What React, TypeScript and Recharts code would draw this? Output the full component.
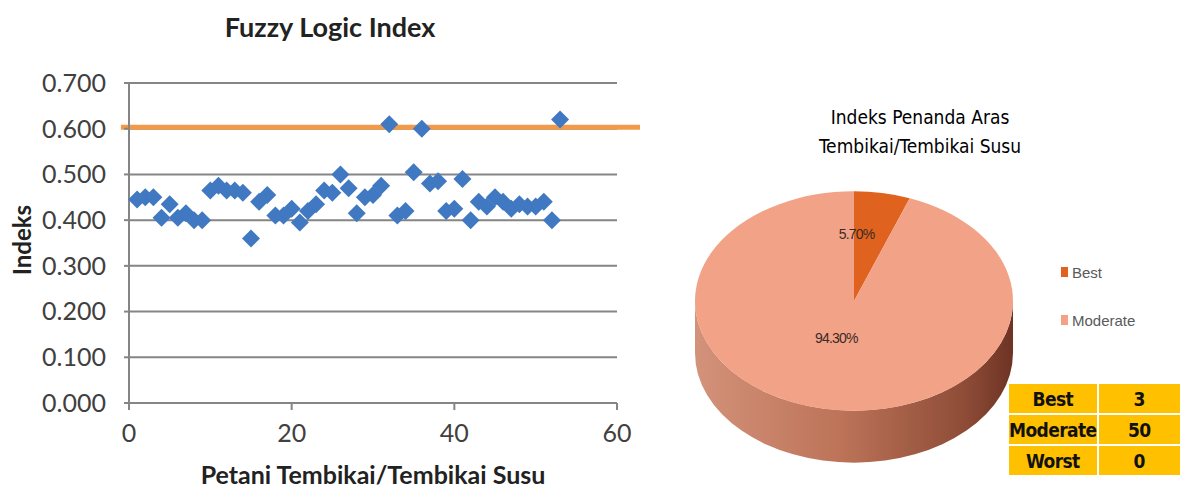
import React from 'react'
import {
  ScatterChart, Scatter, XAxis, YAxis, CartesianGrid, ReferenceLine, Label,
  PieChart, Pie, Cell, Legend,
} from 'recharts'

document.body.style.margin = '0'

// farmer number on the x axis, fuzzy logic index on the y axis
const farmerIds = [
  1, 2, 3, 4, 5, 6, 7, 8, 9, 10, 11, 12, 13, 14, 15, 16, 17, 18,
  19, 20, 21, 22, 23, 24, 25, 26, 27, 28, 29, 30, 31, 32, 33, 34, 35, 36,
  37, 38, 39, 40, 41, 42, 43, 44, 45, 46, 47, 48, 49, 50, 51, 52, 53,
]
const fuzzyIndex = [
  0.445, 0.45, 0.45, 0.405, 0.435, 0.405, 0.415, 0.4, 0.4, 0.465, 0.475, 0.465, 0.465, 0.46, 0.36, 0.44, 0.455, 0.41,
  0.41, 0.425, 0.395, 0.42, 0.435, 0.465, 0.46, 0.5, 0.47, 0.415, 0.45, 0.455, 0.475, 0.61, 0.41, 0.42, 0.505, 0.6,
  0.48, 0.485, 0.42, 0.425, 0.49, 0.4, 0.44, 0.43, 0.45, 0.44, 0.425, 0.435, 0.43, 0.43, 0.44, 0.4, 0.62,
]
const benchmark = 0.603
const yTicks = [0, 0.1, 0.2, 0.3, 0.4, 0.5, 0.6, 0.7]
const xTicks = [0, 20, 40, 60]

const pieCategories = ['Best', 'Moderate']
const piePercents = [5.7, 94.3]
const pieColors = ['#E0621F', '#F2A387']

const tableCategories = ['Best', 'Moderate', 'Worst']
const tableCounts = [3, 50, 0]

const scatterData = farmerIds.map((id, i) => ({ x: id, y: fuzzyIndex[i] }))
const pieData = pieCategories.map((name, i) => ({ name, value: piePercents[i] }))

const TILT = 0.69
const DEPTH = 52
const narrow = '"Liberation Sans Narrow", "Arial Narrow", "DejaVu Sans Condensed", sans-serif'
const lato = 'Lato, sans-serif'

function Diamond(props: any) {
  const { cx, cy } = props
  const r = 9
  return <path d={`M${cx},${cy - r}L${cx + r},${cy}L${cx},${cy + r}L${cx - r},${cy}Z`} fill="#4079C2" />
}

function onEllipse(cx: number, cy: number, rx: number, ry: number, deg: number) {
  const a = (deg * Math.PI) / 180
  return [cx + rx * Math.cos(a), cy - ry * Math.sin(a)]
}

// pie slice squashed into an ellipse, with the front rim extruded downwards
function Slice3D(props: any) {
  const { cx, cy, outerRadius, startAngle, endAngle, fill } = props
  const rx = outerRadius
  const ry = outerRadius * TILT
  const [x1, y1] = onEllipse(cx, cy, rx, ry, startAngle)
  const [x2, y2] = onEllipse(cx, cy, rx, ry, endAngle)
  const large = Math.abs(startAngle - endAngle) > 180 ? 1 : 0
  const sweep = startAngle > endAngle ? 1 : 0
  const top = `M${cx},${cy}L${x1},${y1}A${rx},${ry} 0 ${large} ${sweep} ${x2},${y2}Z`

  const lo = Math.min(startAngle, endAngle)
  const hi = Math.max(startAngle, endAngle)
  const sides: string[] = []
  for (let k = -2; k <= 1; k++) {
    const a = Math.max(lo, -180 + 360 * k)
    const b = Math.min(hi, 360 * k)
    if (b > a) {
      const [ax, ay] = onEllipse(cx, cy, rx, ry, a)
      const [bx, by] = onEllipse(cx, cy, rx, ry, b)
      sides.push(
        `M${ax},${ay}A${rx},${ry} 0 0 0 ${bx},${by}L${bx},${by + DEPTH}A${rx},${ry} 0 0 1 ${ax},${ay + DEPTH}Z`
      )
    }
  }
  return (
    <g>
      {sides.map((d, i) => (
        <path key={i} d={d} fill="url(#pieSide)" />
      ))}
      <path d={top} fill={fill} />
    </g>
  )
}

function pieLabel(props: any) {
  const { cx, cy, outerRadius, midAngle, index } = props
  const f = index === 0 ? 0.62 : 0.34
  const shift = index === 0 ? -15 : -8
  const [x, y] = onEllipse(cx, cy, outerRadius * f, outerRadius * TILT * f, midAngle)
  return (
    <text x={x + shift} y={y} textAnchor="middle" dominantBaseline="central" fontSize={14}
      fontFamily="'Liberation Sans', sans-serif" fill="#3a2a25" letterSpacing={-0.8}>
      {piePercents[index].toFixed(2)}%
    </text>
  )
}

function PieLegend() {
  return (
    <div style={{ fontFamily: "'Liberation Sans', sans-serif", fontSize: 15, color: '#595959' }}>
      {pieCategories.map((c, i) => (
        <div key={c} style={{ display: 'flex', alignItems: 'center', height: 20, marginBottom: 28 }}>
          <span style={{ width: 7, height: 10, background: pieColors[i], marginRight: 4 }} />
          {c}
        </div>
      ))}
    </div>
  )
}

export default function App() {
  return (
    <div style={{ position: 'relative', width: 1180, height: 489, background: '#fff', overflow: 'hidden' }}>
      <div style={{ position: 'absolute', left: 160, top: 10, width: 340, textAlign: 'center',
        fontFamily: lato, fontWeight: 700, fontSize: 27, color: '#222' }}>
        Fuzzy Logic Index
      </div>
      <div style={{ position: 'absolute', left: 0, top: 0 }}>
        <ScatterChart width={640} height={489} margin={{ top: 83, right: 23, bottom: 0, left: 0 }}>
          <CartesianGrid vertical={false} stroke="#858585" strokeWidth={2} />
          <XAxis type="number" dataKey="x" domain={[0, 60]} ticks={xTicks} height={86}
            tickSize={7} tickMargin={14} stroke="#858585" strokeWidth={2}
            tick={{ fill: '#404040', fontSize: 25, fontFamily: lato }}>
            <Label value="Petani Tembikai/Tembikai Susu" position="insideBottom" offset={5}
              fill="#222" fontSize={25} fontWeight={700} fontFamily={lato} />
          </XAxis>
          <YAxis type="number" dataKey="y" domain={[0, 0.7]} ticks={yTicks} width={129}
            tickSize={5} tickMargin={18} stroke="#858585" strokeWidth={2}
            tickFormatter={(v: number) => v.toFixed(3)}
            tick={{ fill: '#404040', fontSize: 25, fontFamily: lato }}>
            <Label content={(p: any) => {
              const vb = p.viewBox
              const y = vb.y + vb.height / 2 - 3
              return (
                <text x={21} y={y} transform={`rotate(-90 21 ${y})`} textAnchor="middle"
                  dominantBaseline="central" fill="#222" fontSize={24} fontWeight={700}
                  fontFamily={lato}>Indeks</text>
              )
            }} />
          </YAxis>
          <ReferenceLine segment={[{ x: -1, y: benchmark }, { x: 63, y: benchmark }]}
            stroke="#F39A4A" strokeWidth={5} ifOverflow="visible" />
          <Scatter data={scatterData} shape={Diamond} isAnimationActive={false} />
        </ScatterChart>
      </div>

      <div style={{ position: 'absolute', left: 760, top: 103, width: 320, textAlign: 'center',
        fontFamily: narrow, fontSize: 19, lineHeight: '29px', color: '#000' }}>
        Indeks Penanda Aras<br />Tembikai/Tembikai Susu
      </div>
      <div style={{ position: 'absolute', left: 680, top: 0 }}>
        <PieChart width={500} height={489}>
          <defs>
            <linearGradient id="pieSide" x1="0" y1="0" x2="1" y2="0">
              <stop offset="0%" stopColor="#D3927A" />
              <stop offset="45%" stopColor="#BD7459" />
              <stop offset="85%" stopColor="#8E4C37" />
              <stop offset="100%" stopColor="#6E3324" />
            </linearGradient>
          </defs>
          <Pie data={pieData} dataKey="value" cx={169} cy={296} outerRadius={159}
            startAngle={90} endAngle={-270} stroke="none" shape={Slice3D}
            label={pieLabel} labelLine={false} isAnimationActive={false}>
            {pieData.map((d, i) => (
              <Cell key={d.name} fill={pieColors[i]} />
            ))}
          </Pie>
          <Legend content={PieLegend} wrapperStyle={{ left: 381, top: 262, width: 110 }} />
        </PieChart>
      </div>

      <table style={{ position: 'absolute', left: 1009, top: 382, width: 171, borderCollapse: 'collapse',
        fontFamily: narrow, fontWeight: 700, fontSize: 19, letterSpacing: -0.6, color: '#111', textAlign: 'center' }}>
        <tbody>
          {tableCategories.map((c, i) => (
            <tr key={c} style={{ height: 31, background: '#FFC000' }}>
              <td style={{ border: '2px solid #fff', borderLeft: 'none', padding: 0, width: 85 }}>{c}</td>
              <td style={{ border: '2px solid #fff', borderRight: 'none', padding: 0 }}>{tableCounts[i]}</td>
            </tr>
          ))}
        </tbody>
      </table>
    </div>
  )
}
